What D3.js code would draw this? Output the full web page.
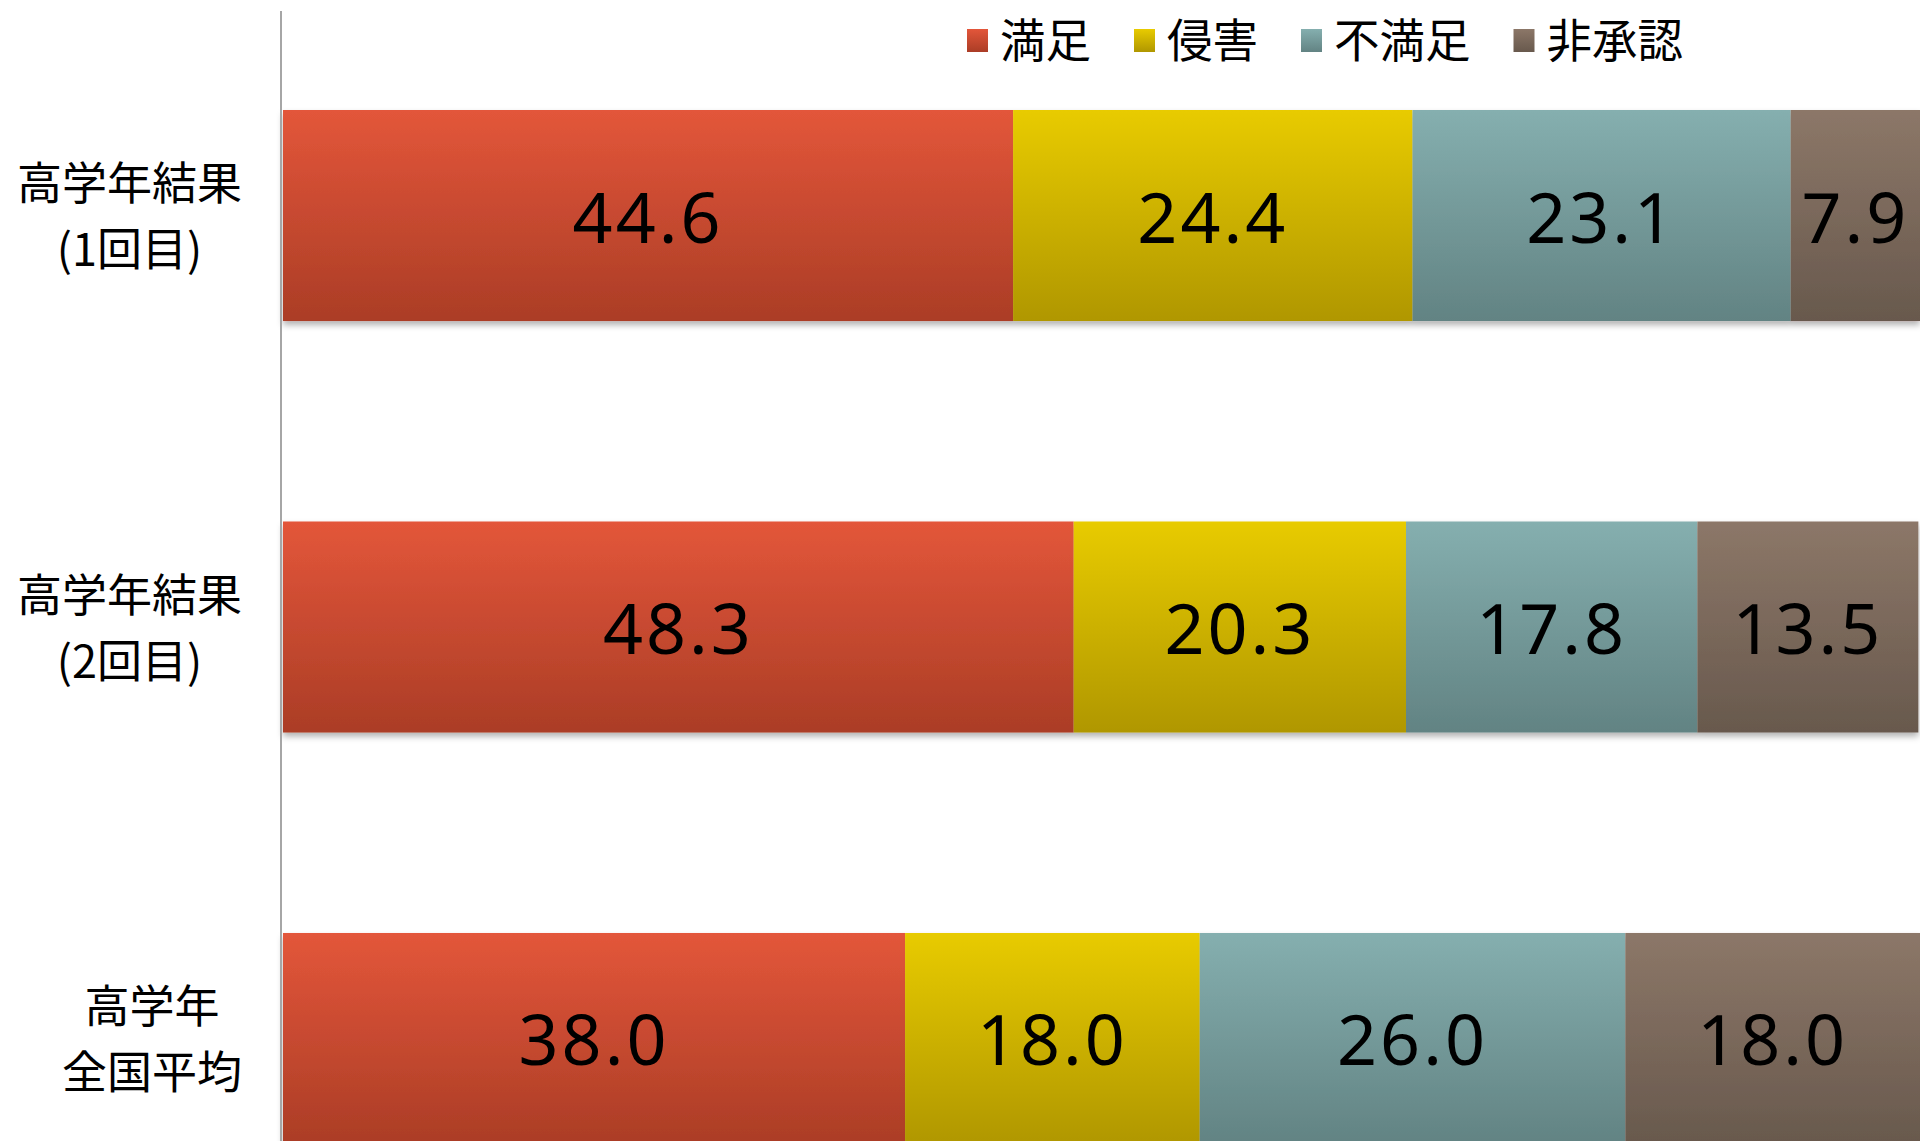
<!DOCTYPE html>
<html lang="ja">
<head>
  <meta charset="UTF-8">
  <script src="https://d3js.org/d3.v7.min.js"></script>
  <style>
    body {
      margin: 0;
      background: #fff;
      overflow: hidden;
    }
    .cat {
      font-family: "Noto Sans CJK JP", sans-serif;
      font-size: 45px;
      fill: #000;
    }
    .val {
      font-family: "Noto Sans", "DejaVu Sans", sans-serif;
      font-size: 70px;
      letter-spacing: 3px;
      fill: #000;
    }
    .legend text {
      font-family: "Noto Sans CJK JP", sans-serif;
      font-size: 46px;
      fill: #000;
    }
  </style>
</head>
<body>
  <div id="chart"></div>

  <script>
    // categories (each entry is split into two lines)
    var categories = [
      ["高学年結果", "(1回目)"],
      ["高学年結果", "(2回目)"],
      ["高学年", "全国平均"]
    ];
    var seriesNames = ["満足", "侵害", "不満足", "非承認"];

    var satisfied   = [44.6, 48.3, 38.0];
    var infringed   = [24.4, 20.3, 18.0];
    var unsatisfied = [23.1, 17.8, 26.0];
    var unapproved  = [7.9, 13.5, 18.0];

    var colors = [
      ["#e3563a", "#ab3d26"],
      ["#e8cb00", "#b09700"],
      ["#85afaf", "#628383"],
      ["#8c7768", "#68594d"]
    ];

    var width = 1920;
    var height = 1141;

    var svg = d3.select("#chart")
      .append("svg")
      .attr("width", width)
      .attr("height", height);

    var defs = svg.append("defs");
    colors.forEach(function (c, i) {
      var gr = defs.append("linearGradient")
        .attr("id", "grad" + i)
        .attr("x1", 0).attr("y1", 0).attr("x2", 0).attr("y2", 1);
      gr.append("stop").attr("offset", "0%").attr("stop-color", c[0]);
      gr.append("stop").attr("offset", "100%").attr("stop-color", c[1]);
    });
    var shadow = defs.append("filter").attr("id", "shadow")
      .attr("x", "-5%").attr("y", "-5%").attr("width", "110%").attr("height", "120%");
    shadow.append("feDropShadow")
      .attr("dx", 0).attr("dy", 4).attr("stdDeviation", 3)
      .attr("flood-color", "#000").attr("flood-opacity", 0.3);

    var rows = categories.map(function (c, i) {
      return {
        cat: c,
        values: [satisfied[i], infringed[i], unsatisfied[i], unapproved[i]]
      };
    });

    var x = d3.scaleLinear().domain([0, 100]).range([283, 1920]);
    var y = d3.scaleBand()
      .domain(d3.range(categories.length))
      .range([110, 1144])
      .paddingInner(0.4872)
      .paddingOuter(0);

    // bars
    var rowG = svg.selectAll(".row")
      .data(rows)
      .enter()
      .append("g")
      .attr("class", "row")
      .attr("filter", "url(#shadow)");

    rowG.each(function (d, i) {
      var g = d3.select(this);
      var acc = 0;
      var segs = d.values.map(function (v, k) {
        var s = { k: k, v: v, x0: acc, x1: acc + v };
        acc += v;
        return s;
      });
      g.selectAll("rect")
        .data(segs)
        .enter()
        .append("rect")
        .attr("x", function (s) { return x(s.x0); })
        .attr("y", y(i))
        .attr("width", function (s) { return x(s.x1) - x(s.x0); })
        .attr("height", y.bandwidth())
        .attr("fill", function (s) { return "url(#grad" + s.k + ")"; });
    });

    // value labels
    rowG.each(function (d, i) {
      var acc = 0;
      var segs = d.values.map(function (v) {
        var s = { v: v, mid: acc + v / 2 };
        acc += v;
        return s;
      });
      svg.selectAll(".val" + i)
        .data(segs)
        .enter()
        .append("text")
        .attr("class", "val")
        .attr("text-anchor", "middle")
        .attr("x", function (s) { return x(s.mid); })
        .attr("y", y(i) + y.bandwidth() / 2 + 27)
        .text(function (s) { return s.v.toFixed(1); });
    });

    // axis line
    svg.append("line")
      .attr("x1", 281).attr("x2", 281)
      .attr("y1", 11).attr("y2", height)
      .attr("stroke", "#a6a6a6")
      .attr("stroke-width", 2);

    // category labels: block right-aligned near the axis, lines centered
    categories.forEach(function (c, i) {
      var g = svg.append("g");
      var cy = y(i) + y.bandwidth() / 2;
      var texts = c.map(function (line, j) {
        return g.append("text")
          .attr("class", "cat")
          .attr("text-anchor", "middle")
          .attr("y", cy + (j - 0.5) * 66 + 1.5 + 16)
          .text(line);
      });
      var w = d3.max(texts, function (t) { return t.node().getComputedTextLength(); });
      texts.forEach(function (t) { t.attr("x", 242 - w / 2); });
    });

    // legend
    var legend = svg.append("g").attr("class", "legend");
    var lx = 967;
    seriesNames.forEach(function (name, i) {
      legend.append("rect")
        .attr("x", lx).attr("y", 29)
        .attr("width", 21).attr("height", 23)
        .attr("fill", "url(#grad" + i + ")");
      var tw = name.length * 45.5;
      legend.append("text")
        .attr("x", lx + 33)
        .attr("y", 57)
        .attr("textLength", tw)
        .attr("lengthAdjust", "spacingAndGlyphs")
        .text(name);
      lx += 33 + tw + 43;
    });
  </script>
</body>
</html>
